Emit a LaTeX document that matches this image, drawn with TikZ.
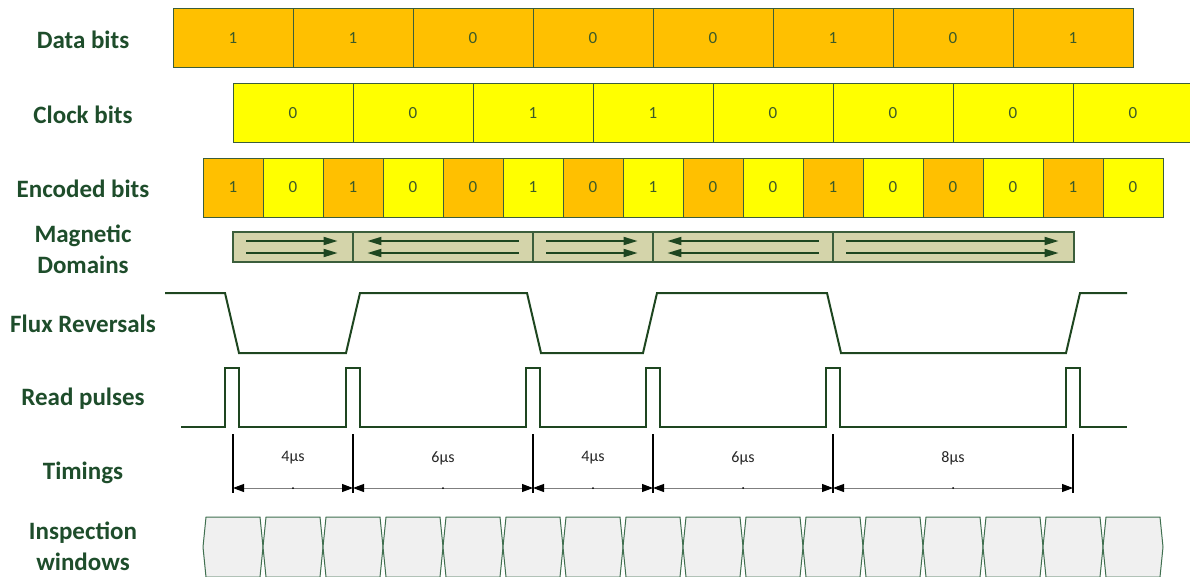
\documentclass[tikz,border=0pt]{standalone}
\usepackage{fontspec}
\setmainfont{Carlito}
\usetikzlibrary{arrows.meta,calc}
\definecolor{orng}{HTML}{FFC000}
\definecolor{yel}{HTML}{FFFF00}
\definecolor{cellborder}{HTML}{3B5E3B}
\definecolor{lblgreen}{HTML}{1E4D2B}
\definecolor{digit}{HTML}{3C5A28}
\definecolor{wave}{HTML}{1E4620}
\definecolor{domfill}{HTML}{D4D4AA}
\definecolor{winfill}{HTML}{F0F0F0}
\definecolor{winline}{HTML}{3F6F4F}
\definecolor{tgray}{HTML}{7F7F7F}
\begin{document}
\begin{tikzpicture}[x=1pt,y=-1pt,
  lbl/.style={font=\fontsize{25}{31}\selectfont\bfseries, text=lblgreen, align=center},
  cellbox/.style={draw=cellborder, line width=1pt, inner sep=0pt, minimum height=59pt,
    font=\fontsize{17}{17}\selectfont, text=digit},
  wide/.style={cellbox, minimum width=120pt},
  narrow/.style={cellbox, minimum width=60pt},
  dombox/.style={draw=cellborder, fill=domfill, line width=1.2pt, inner sep=0pt, minimum height=30pt},
  domarrow/.style={draw=wave, line width=1.8pt, -{Triangle[length=14pt,width=8pt]}},
  wavestyle/.style={draw=wave, line width=2pt, line join=miter},
  tline/.style={draw=black, line width=1.3pt},
  tarrow/.style={draw=tgray, line width=1pt, {Triangle[length=11pt,width=8pt,color=black]}-{Triangle[length=11pt,width=8pt,color=black]}},
  tlabel/.style={font=\fontsize{16}{16}\selectfont, text=black!85},
  win/.style={draw=winline, fill=winfill, line width=1pt, line join=miter}
]
\useasboundingbox (0,0) rectangle (1190,576);
\clip (0,0) rectangle (1190,576);

% labels
\node[lbl] (ldata) at (83,40) {Data bits};
\node[lbl] (lclock) at (83,115) {Clock bits};
\node[lbl] (lenc) at (83,189) {Encoded bits};
\node[lbl] (lmag) at (83,249) {Magnetic\\Domains};
\node[lbl] (lflux) at (83,324) {Flux Reversals};
\node[lbl] (lread) at (83,399) {Read pulses};
\node[lbl] (ltime) at (83,473) {Timings};
\node[lbl, inner sep=1pt] (linsp) at (83,546) {Inspection\\windows};

% data bits
\foreach \v [count=\i] in {1,1,0,0,0,1,0,1}
  \node[wide, fill=orng] (d\i) at ({173+120*(\i-1)+60},38) {\v};
% clock bits
\foreach \v [count=\i] in {0,0,1,1,0,0,0,0}
  \node[wide, fill=yel] (c\i) at ({233+120*(\i-1)+60},113) {\v};
% encoded bits
\foreach \v/\c [count=\i] in {1/orng,0/yel,1/orng,0/yel,0/orng,1/yel,0/orng,1/yel,0/orng,0/yel,1/orng,0/yel,0/orng,0/yel,1/orng,0/yel}
  \node[narrow, fill=\c] (e\i) at ({203+60*(\i-1)+30},187.5) {\v};

% magnetic domains
\foreach \a/\b [count=\i] in {233/353,353/533,533/653,653/833,833/1074}
  \node[dombox, minimum width={(\b-\a)*1pt}] (m\i) at ({(\a+\b)/2},247) {};
\foreach \i in {1,3,5} {
  \draw[domarrow] ([xshift=14pt,yshift=6pt]m\i.west) -- ([xshift=-16pt,yshift=6pt]m\i.east);
  \draw[domarrow] ([xshift=14pt,yshift=-6pt]m\i.west) -- ([xshift=-16pt,yshift=-6pt]m\i.east);
}
\foreach \i in {2,4} {
  \draw[domarrow] ([xshift=-15pt,yshift=6pt]m\i.east) -- ([xshift=15pt,yshift=6pt]m\i.west);
  \draw[domarrow] ([xshift=-15pt,yshift=-6pt]m\i.east) -- ([xshift=15pt,yshift=-6pt]m\i.west);
}

% flux reversals
\draw[wavestyle] (165,293) -- (225,293) -- (239,353) -- (346,353) -- (360,293) -- (527,293)
  -- (541,353) -- (643,353) -- (657,293) -- (827,293) -- (841,353) -- (1066,353)
  -- (1080,293) -- (1127,293);

% read pulses
\draw[wavestyle] (181,427) -- (225,427) -- (225,368) -- (239,368) -- (239,427)
  -- (346,427) -- (346,368) -- (360,368) -- (360,427)
  -- (526,427) -- (526,368) -- (540,368) -- (540,427)
  -- (646,427) -- (646,368) -- (660,368) -- (660,427)
  -- (826,427) -- (826,368) -- (840,368) -- (840,427)
  -- (1066,427) -- (1066,368) -- (1080,368) -- (1080,427) -- (1127,427);

% timings
\foreach \x [count=\i] in {233,353,533,653,833,1073} {
  \coordinate (t\i) at (\x,488);
  \coordinate (tt\i) at (\x,434);
  \coordinate (tb\i) at (\x,493);
  \draw[tline] (tt\i) -- (tb\i);
}
\foreach \a/\b/\txt in {1/2/4µs,2/3/6µs,3/4/4µs,4/5/6µs,5/6/8µs} {
  \draw[tarrow] (t\a) -- (t\b);
  \fill[black] ($(t\a)!0.5!(t\b)$) circle (1pt);
  \node[tlabel] (lab\a) at ($(t\a)!0.5!(t\b)+(0,-30)$) {\txt};
}

% inspection windows
\foreach \k in {0,...,15} {
  \pgfmathsetmacro{\xo}{203+60*\k}
  \draw[win] (\xo+3,517) -- (\xo+57,517) -- (\xo+60,547) -- (\xo+57,577) -- (\xo+3,577) -- (\xo,547) -- cycle;
}
\end{tikzpicture}
\end{document}
